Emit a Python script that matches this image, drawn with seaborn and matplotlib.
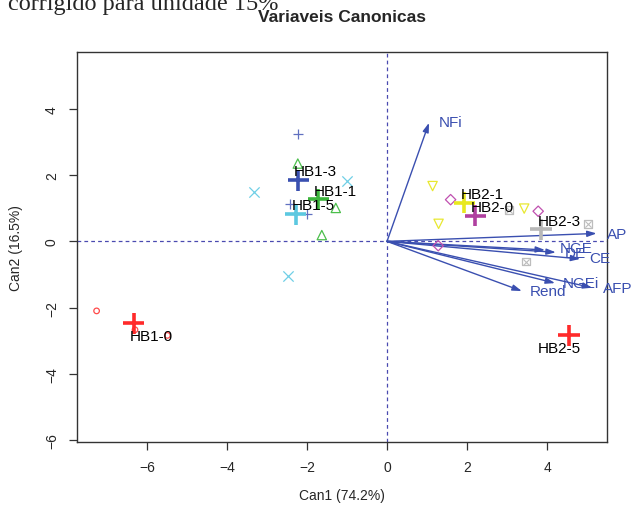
import matplotlib
matplotlib.use("Agg")
import matplotlib.pyplot as plt
import seaborn as sns
import pandas as pd

# ---------------- data ----------------
groups = ["HB1-0", "HB1-3", "HB1-1", "HB1-5", "HB2-1", "HB2-0", "HB2-3", "HB2-5"]
group_colors = ["#FF2A2A", "#3A50B0", "#3CB43C", "#5CC8E0", "#E8E820", "#B040A0", "#B8B8B8", "#FF2A2A"]
point_colors = ["#FF4A4A", "#6070C0", "#4CBF4C", "#70CFE6", "#E8E830", "#C050B0", "#BDBDBD", "#FF4A4A"]
group_markers = ["o", "+", "^", "x", "v", "D", "boxx", "o"]

# observation scores (Can1, Can2)
obs_x = {
    "HB1-0": [-7.26, -6.30, -5.49],
    "HB1-3": [-2.23, -2.43, -2.01],
    "HB1-1": [-2.23, -1.28, -1.63],
    "HB1-5": [-3.32, -1.01, -2.48],
    "HB2-1": [1.14, 3.43, 1.29],
    "HB2-0": [1.59, 3.78, 1.28],
    "HB2-3": [3.05, 5.03, 3.47],
    "HB2-5": [],
}
obs_y = {
    "HB1-0": [-2.10, -2.67, -2.84],
    "HB1-3": [3.25, 1.14, 0.84],
    "HB1-1": [2.35, 1.01, 0.19],
    "HB1-5": [1.48, 1.83, -1.04],
    "HB2-1": [1.67, 0.99, 0.53],
    "HB2-0": [1.26, 0.91, -0.13],
    "HB2-3": [0.94, 0.52, -0.61],
    "HB2-5": [],
}

# group means
mean_x = [-6.33, -2.22, -1.72, -2.28, 1.93, 2.21, 3.85, 4.55]
mean_y = [-2.47, 1.85, 1.27, 0.82, 1.17, 0.77, 0.37, -2.83]
# group label positions
lab_x = [-5.90, -1.78, -1.28, -1.83, 2.38, 2.64, 4.30, 4.31]
lab_y = [-2.86, 2.12, 1.53, 1.09, 1.44, 1.03, 0.62, -3.22]

# structure vectors
variables = ["NFi", "AP", "NGE", "DE", "CE", "NGEi", "AFP", "Rend"]
vec_x = [1.05, 5.24, 3.95, 4.22, 4.83, 4.20, 5.13, 3.37]
vec_y = [3.58, 0.24, -0.26, -0.33, -0.53, -1.26, -1.40, -1.50]
vlab_x = [1.30, 5.49, 4.33, 4.45, 5.06, 4.40, 5.41, 3.58]
vlab_y = [3.60, 0.22, -0.21, -0.36, -0.51, -1.27, -1.40, -1.50]

title = "Variaveis Canonicas"
xlabel = "Can1 (74.2%)"
ylabel = "Can2 (16.5%)"
header_text = "corrigido para unidade 15%"
xticks = [-6, -4, -2, 0, 2, 4]
yticks = [-6, -4, -2, 0, 2, 4]

# ---------------- plot ----------------
sns.set_style("white")
plt.rcParams["font.family"] = ["Liberation Sans", "DejaVu Sans"]

fig = plt.figure(figsize=(6.31, 5.06), dpi=100)
ax = fig.add_axes([77 / 631, 63 / 506, 530 / 631, 390 / 506])
ax.set_xlim(-7.75, 5.5)
ax.set_ylim(-6.06, 5.72)

vec_color = "#3A4FB0"
ax.axhline(0, color="#4A4AB0", lw=0.9, ls=(0, (3, 2.5)), zorder=1)
ax.axvline(0, color="#4A4AB0", lw=0.9, ls=(0, (3, 2.5)), zorder=1)

for g, pc, m in zip(groups, point_colors, group_markers):
    xs, ys = obs_x[g], obs_y[g]
    if not xs:
        continue
    df = pd.DataFrame({"x": xs, "y": ys})
    if m in ("+", "x"):
        sns.scatterplot(data=df, x="x", y="y", marker=m, s=55, color=pc,
                        linewidth=0.9, ax=ax, zorder=3)
    elif m == "boxx":
        sns.scatterplot(data=df, x="x", y="y", marker="s", s=30, color="none",
                        edgecolor=pc, linewidth=0.9, ax=ax, zorder=3)
        sns.scatterplot(data=df, x="x", y="y", marker="x", s=20, color=pc,
                        linewidth=0.8, ax=ax, zorder=3)
    else:
        size = 16 if m == "o" else (28 if m == "D" else 45)
        sns.scatterplot(data=df, x="x", y="y", marker=m, s=size, color="none",
                        edgecolor=pc, linewidth=0.9, ax=ax, zorder=3)

means = pd.DataFrame({"x": mean_x, "y": mean_y, "g": groups})
sns.scatterplot(data=means, x="x", y="y", hue="g", palette=dict(zip(groups, group_colors)),
                marker="+", s=230, linewidth=2.6, legend=False, ax=ax, zorder=4)

for g, tx, ty in zip(groups, lab_x, lab_y):
    ax.text(tx, ty, g, ha="center", va="center", fontsize=11, color="black", zorder=5)

for v, x, y, lx, ly in zip(variables, vec_x, vec_y, vlab_x, vlab_y):
    ax.annotate("", xy=(x, y), xytext=(0, 0),
                arrowprops=dict(arrowstyle="-|>,head_length=0.55,head_width=0.18",
                                color=vec_color, lw=1.0, shrinkA=0, shrinkB=0),
                zorder=2)
    ax.text(lx, ly, v, ha="left", va="center", fontsize=11, color=vec_color,
            clip_on=False, zorder=5)

ax.set_xticks(xticks)
ax.set_yticks(yticks)
ax.tick_params(axis="both", direction="out", length=6, width=0.9, color="#333333",
               labelsize=10, pad=7, bottom=True, left=True)
for lab in ax.get_yticklabels():
    lab.set_rotation(90)
    lab.set_va("center")
for sp in ax.spines.values():
    sp.set_visible(True)
    sp.set_color("#333333")
    sp.set_linewidth(1.0)

ax.set_xlabel(xlabel, fontsize=10, labelpad=10)
ax.set_ylabel(ylabel, fontsize=10, labelpad=16)
fig.text(342 / 631, 1 - 18 / 506, title, ha="center", va="center", fontsize=12.5,
         fontweight="bold")
fig.text(8 / 631, 1 - 10 / 506, header_text, ha="left", va="baseline", fontsize=17.5,
         family=["Liberation Serif", "DejaVu Serif"])

fig.savefig("out.png", dpi=100)
